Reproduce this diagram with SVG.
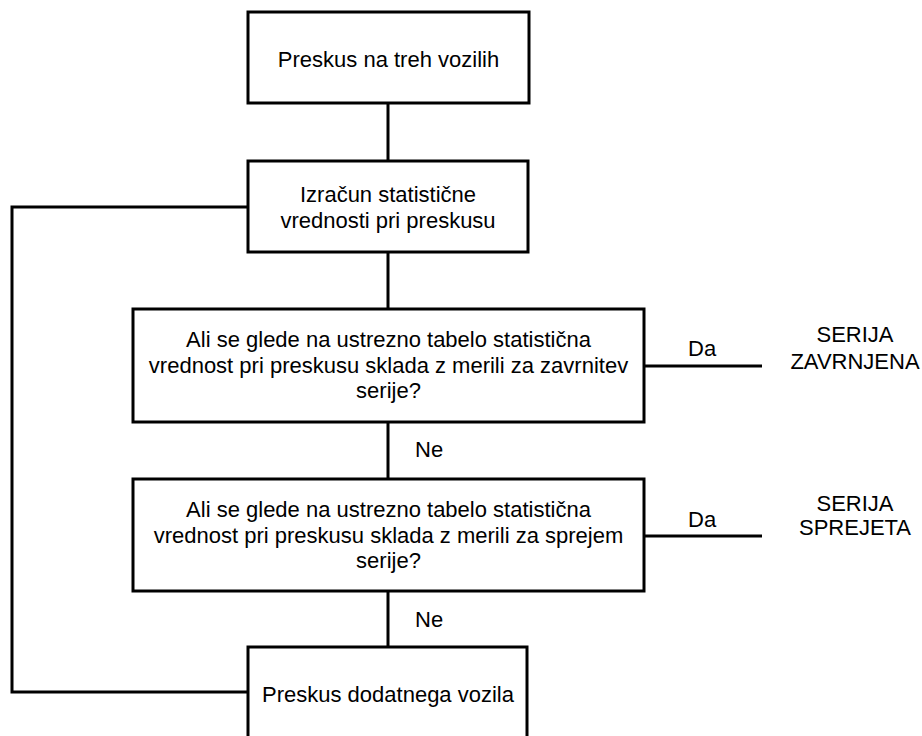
<svg xmlns="http://www.w3.org/2000/svg" width="922" height="736" viewBox="0 0 922 736">
<style>
.box{fill:#fff;stroke:#000;stroke-width:3}
.ln{fill:none;stroke:#000;stroke-width:3}
text{font-family:"Liberation Sans",Arial,sans-serif;font-size:22px;fill:#000}
.c{text-anchor:middle}
</style>
<rect width="922" height="736" fill="#fff"/>
<g id="connectors">
<path class="ln" d="M388 103V161M388 252V309M388 422V479M388 591V647"/>
<path class="ln" d="M248 207H12V692H248"/>
<path class="ln" d="M644 366H762M644 536H762"/>
<text x="415" y="457">Ne</text>
<text x="415" y="627">Ne</text>
<text x="688" y="356">Da</text>
<text x="688" y="527">Da</text>
</g>
<g id="n1">
<rect class="box" x="248" y="12" width="281" height="91"/>
<text class="c" x="388.5" y="67">Preskus na treh vozilih</text>
</g>
<g id="n2">
<rect class="box" x="248" y="161" width="280" height="91"/>
<text class="c" x="388" y="202">Izračun statistične</text>
<text class="c" x="388" y="228">vrednosti pri preskusu</text>
</g>
<g id="n3">
<rect class="box" x="133" y="309" width="511" height="113"/>
<text class="c" x="388.5" y="347">Ali se glede na ustrezno tabelo statistična</text>
<text class="c" x="388.5" y="372.5">vrednost pri preskusu sklada z merili za zavrnitev</text>
<text class="c" x="388.5" y="398">serije?</text>
</g>
<g id="n4">
<rect class="box" x="133" y="479" width="511" height="112"/>
<text class="c" x="388.5" y="517">Ali se glede na ustrezno tabelo statistična</text>
<text class="c" x="388.5" y="542.5">vrednost pri preskusu sklada z merili za sprejem</text>
<text class="c" x="388.5" y="568">serije?</text>
</g>
<g id="n5">
<rect class="box" x="248" y="647" width="279" height="100"/>
<text class="c" x="388" y="702">Preskus dodatnega vozila</text>
</g>
<g id="t1">
<text class="c" x="855" y="342">SERIJA</text>
<text class="c" x="855" y="369">ZAVRNJENA</text>
</g>
<g id="t2">
<text class="c" x="855" y="511">SERIJA</text>
<text class="c" x="855" y="535">SPREJETA</text>
</g>
</svg>
